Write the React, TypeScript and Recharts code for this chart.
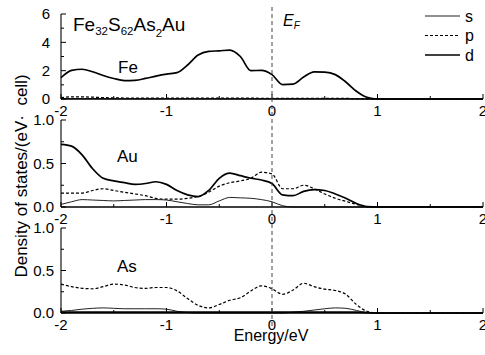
import React from 'react';
import { LineChart, Line, XAxis, YAxis, ReferenceLine, Legend } from 'recharts';

const ENERGY = [-2.0, -1.9, -1.8, -1.7, -1.6, -1.5, -1.4, -1.3, -1.2, -1.1, -1.0, -0.9, -0.8, -0.7, -0.6, -0.5, -0.4, -0.3, -0.2, -0.1, 0.0, 0.1, 0.2, 0.3, 0.4, 0.5, 0.6, 0.7, 0.8, 0.9, 1.0, 1.1, 1.2, 1.3, 1.4, 1.5, 1.6, 1.7, 1.8, 1.9, 2.0];

const FE_S = [0.02, 0.03, 0.03, 0.03, 0.03, 0.02, 0.02, 0.02, 0.02, 0.02, 0.02, 0.02, 0.02, 0.02, 0.02, 0.02, 0.02, 0.02, 0.02, 0.02, 0.02, 0.02, 0.02, 0.02, 0.02, 0.02, 0.02, 0.02, 0.01, 0.005, 0, 0, 0, 0, 0, 0, 0, 0, 0, 0, 0];
const FE_P = [0.1, 0.15, 0.15, 0.13, 0.1, 0.08, 0.07, 0.06, 0.06, 0.06, 0.06, 0.06, 0.06, 0.06, 0.06, 0.06, 0.06, 0.06, 0.06, 0.05, 0.05, 0.05, 0.05, 0.05, 0.05, 0.05, 0.05, 0.04, 0.03, 0.01, 0, 0, 0, 0, 0, 0, 0, 0, 0, 0, 0];
const FE_D = [1.5, 2.02, 2.1, 1.92, 1.66, 1.45, 1.3, 1.32, 1.45, 1.62, 1.76, 1.86, 2.4, 3.1, 3.36, 3.4, 3.45, 3.0, 2.0, 2.02, 1.72, 1.02, 1.05, 1.55, 1.92, 1.9, 1.72, 1.2, 0.55, 0.12, 0, 0, 0, 0, 0, 0, 0, 0, 0, 0, 0];

const AU_S = [0.03, 0.06, 0.085, 0.08, 0.075, 0.07, 0.075, 0.08, 0.085, 0.085, 0.08, 0.06, 0.04, 0.025, 0.025, 0.07, 0.11, 0.105, 0.1, 0.085, 0.06, 0.015, 0, 0, 0, 0, 0, 0, 0, 0, 0, 0, 0, 0, 0, 0, 0, 0, 0, 0, 0];
const AU_P = [0.16, 0.16, 0.16, 0.19, 0.21, 0.19, 0.17, 0.15, 0.13, 0.1, 0.09, 0.09, 0.1, 0.12, 0.17, 0.24, 0.28, 0.3, 0.33, 0.4, 0.38, 0.21, 0.21, 0.25, 0.21, 0.15, 0.1, 0.065, 0.03, 0.005, 0, 0, 0, 0, 0, 0, 0, 0, 0, 0, 0];
const AU_D = [0.72, 0.7, 0.6, 0.44, 0.33, 0.3, 0.28, 0.26, 0.27, 0.29, 0.26, 0.19, 0.14, 0.12, 0.19, 0.33, 0.39, 0.36, 0.33, 0.31, 0.27, 0.14, 0.13, 0.18, 0.2, 0.19, 0.15, 0.1, 0.04, 0.005, 0, 0, 0, 0, 0, 0, 0, 0, 0, 0, 0];

const AS_S = [0.02, 0.03, 0.045, 0.055, 0.06, 0.055, 0.05, 0.05, 0.05, 0.05, 0.045, 0.02, 0.005, 0, 0, 0, 0, 0, 0, 0, 0, 0, 0.01, 0.02, 0.035, 0.05, 0.06, 0.055, 0.03, 0.005, 0, 0, 0, 0, 0, 0, 0, 0, 0, 0, 0];
const AS_P = [0.34, 0.31, 0.29, 0.285, 0.31, 0.34, 0.33, 0.3, 0.29, 0.3, 0.3, 0.26, 0.17, 0.09, 0.06, 0.1, 0.15, 0.18, 0.26, 0.32, 0.285, 0.22, 0.27, 0.35, 0.31, 0.28, 0.265, 0.22, 0.1, 0.02, 0, 0, 0, 0, 0, 0, 0, 0, 0, 0, 0];
const AS_D = [0.01, 0.01, 0.01, 0.01, 0.01, 0.01, 0.01, 0.01, 0.01, 0.01, 0.01, 0.01, 0.01, 0.01, 0.01, 0.01, 0.01, 0.01, 0.01, 0.01, 0.01, 0.01, 0.01, 0.01, 0.01, 0.01, 0.01, 0.01, 0.01, 0.005, 0, 0, 0, 0, 0, 0, 0, 0, 0, 0, 0];

const FERMI_ENERGY = 0;
const X_TICKS = [-2, -1.5, -1, -0.5, 0, 0.5, 1, 1.5, 2];
const FE_Y_TICKS = [0, 1, 2, 3, 4, 5, 6];
const FE_Y_LABELS = [0, 2, 4, 6];
const FRAC_Y_TICKS = [0, 0.25, 0.5, 0.75, 1];
const FRAC_Y_LABELS = [0, 0.5, 1];
const LEGEND_ITEMS = [
  { key: 's', label: 's' },
  { key: 'p', label: 'p' },
  { key: 'd', label: 'd' },
];

const FONT = "'Liberation Sans', Arial, Helvetica, sans-serif";

const STYLE: Record<string, { w: number; dash?: string; color: string }> = {
  s: { w: 1, color: '#222' },
  p: { w: 1.2, dash: '3 2', color: '#000' },
  d: { w: 1.7, color: '#000' },
};

const build = (s: number[], p: number[], d: number[]) =>
  ENERGY.map((e, i) => ({ e, s: s[i], p: p[i], d: d[i] }));

const FE_DATA = build(FE_S, FE_P, FE_D);
const AU_DATA = build(AU_S, AU_P, AU_D);
const AS_DATA = build(AS_S, AS_P, AS_D);

const XTick = (props: any) => {
  const { x, y, payload } = props;
  const v = payload.value;
  const major = Number.isInteger(v);
  return (
    <g>
      <line x1={x} x2={x} y1={y} y2={y - (major ? 5 : 3)} stroke="#000" strokeWidth={1} />
      {major && (
        <text x={x} y={y + 17} textAnchor="middle" fontSize={15} fontFamily={FONT} fill="#000">
          {String(v)}
        </text>
      )}
    </g>
  );
};

const makeYTick = (labels: number[], fmt: (v: number) => string, margin: number) => (props: any) => {
  const { x, y, payload } = props;
  const v = payload.value;
  const major = labels.includes(v);
  return (
    <g>
      <line x1={x} x2={x + (major ? 5 : 3)} y1={y} y2={y} stroke="#000" strokeWidth={1} />
      {major && (
        <text x={x - margin} y={y + 5.4} textAnchor="end" fontSize={15} fontFamily={FONT} fill="#000">
          {fmt(v)}
        </text>
      )}
    </g>
  );
};

const LegendBox = () => (
  <svg width={65} height={60}>
    {LEGEND_ITEMS.map((it, i) => {
      const st = STYLE[it.key];
      const yy = 11 + i * 19.5;
      return (
        <g key={it.key}>
          <line x1={5} x2={40} y1={yy} y2={yy} stroke={st.color} strokeWidth={st.w} strokeDasharray={st.dash} />
          <text x={45} y={yy + 5.5} fontSize={16} fontFamily={FONT} fill="#000">{it.label}</text>
        </g>
      );
    })}
  </svg>
);

type PanelProps = {
  data: any[];
  top: number;
  plotH: number;
  yMax: number;
  yTicks: number[];
  yLabels: number[];
  fmt: (v: number) => string;
  labelMargin: number;
  legend?: boolean;
};

const Panel = ({ data, top, plotH, yMax, yTicks, yLabels, fmt, labelMargin, legend }: PanelProps) => (
  <div style={{ position: 'absolute', left: 0, top: 0 }}>
    <LineChart width={485} height={top + plotH + 26} data={data} margin={{ top, right: 2, bottom: 6, left: 0 }}>
      <XAxis
        dataKey="e"
        type="number"
        domain={[-2, 2]}
        ticks={X_TICKS}
        interval={0}
        tickSize={0}
        tickMargin={0}
        tickLine={false}
        tick={(p: any) => <XTick {...p} />}
        axisLine={{ stroke: '#000', strokeWidth: 1.4 }}
        height={20}
      />
      <YAxis
        type="number"
        domain={[0, yMax]}
        ticks={yTicks}
        interval={0}
        width={61}
        tickSize={0}
        tickMargin={0}
        tickLine={false}
        tick={makeYTick(yLabels, fmt, labelMargin)}
        axisLine={{ stroke: '#000', strokeWidth: 1.1 }}
      />
      {legend && (
        <Legend
          layout="horizontal"
          verticalAlign="middle"
          align="center"
          wrapperStyle={{ position: 'absolute', left: 420, top: 5, width: 65, height: 60 }}
          content={() => <LegendBox />}
        />
      )}
      {(['p', 's', 'd'] as const).map((k) => (
        <Line
          key={k}
          dataKey={k}
          type="monotone"
          dot={false}
          stroke={STYLE[k].color}
          strokeWidth={STYLE[k].w}
          strokeDasharray={STYLE[k].dash}
          isAnimationActive={false}
        />
      ))}
    </LineChart>
  </div>
);

export default function App() {
  return (
    <div style={{ position: 'absolute', left: 0, top: 0, width: 485, height: 355, background: '#fff', fontFamily: FONT }}>
      <Panel data={FE_DATA} top={14} plotH={85} yMax={6} yTicks={FE_Y_TICKS} yLabels={FE_Y_LABELS} fmt={(v) => String(v)} labelMargin={11} legend />
      <Panel data={AU_DATA} top={120} plotH={87} yMax={1} yTicks={FRAC_Y_TICKS} yLabels={FRAC_Y_LABELS} fmt={(v) => v.toFixed(1)} labelMargin={7} />
      <Panel data={AS_DATA} top={228} plotH={85} yMax={1} yTicks={FRAC_Y_TICKS} yLabels={FRAC_Y_LABELS} fmt={(v) => v.toFixed(1)} labelMargin={7} />
      <div style={{ position: 'absolute', left: 0, top: 0 }}>
        <LineChart width={485} height={355} data={FE_DATA} margin={{ top: 5, right: 2, bottom: 29, left: 0 }}>
          <XAxis dataKey="e" type="number" domain={[-2, 2]} hide />
          <YAxis type="number" domain={[0, 6]} width={61} tick={false} axisLine={false} tickLine={false} />
          <Line dataKey="d" stroke="none" dot={false} isAnimationActive={false} />
          <ReferenceLine x={FERMI_ENERGY} stroke="#444" strokeWidth={1} strokeDasharray="4 3" ifOverflow="visible" />
        </LineChart>
      </div>
      <svg width={485} height={355} style={{ position: 'absolute', left: 0, top: 0, pointerEvents: 'none' }} fontFamily={FONT}>
        <text x={73} y={31} fontSize={19} fill="#000">
          Fe<tspan fontSize={11.5} dy={4}>32</tspan>
          <tspan fontSize={19} dy={-4}>S</tspan>
          <tspan fontSize={11.5} dy={4}>62</tspan>
          <tspan fontSize={19} dy={-4}>As</tspan>
          <tspan fontSize={11.5} dy={6}>2</tspan>
          <tspan fontSize={19} dy={-6}>Au</tspan>
        </text>
        <text x={283} y={26} fontSize={16} fontStyle="italic" fill="#000">
          E<tspan fontSize={10} dy={3}>F</tspan>
        </text>
        <text x={118} y={73} fontSize={17} fill="#000">Fe</text>
        <text x={117} y={162} fontSize={17} fill="#000">Au</text>
        <text x={117} y={272} fontSize={17} fill="#000">As</text>
        <text transform="translate(27,176) rotate(-90)" textAnchor="middle" fontSize={17} fill="#000">
          {'Density of states/(eV\u00B7\u00A0 cell)'}
        </text>
        <text x={271} y={341} textAnchor="middle" fontSize={16} fill="#000">Energy/eV</text>
      </svg>
    </div>
  );
}
